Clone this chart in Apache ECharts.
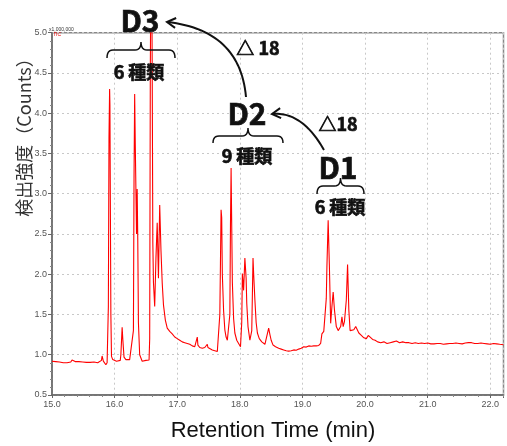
<!DOCTYPE html>
<html>
<head>
<meta charset="utf-8">
<script src="https://cdn.jsdelivr.net/npm/echarts@6/dist/echarts.min.js"></script>
<style>
html,body{margin:0;padding:0;background:#fff;}
#chart{width:507px;height:446px;}
</style>
</head>
<body>
<div id="chart"></div>
<script>
// Retention time (min)
var retentionTime = [
15.00,15.03,15.06,15.09,15.12,15.15,15.18,15.21,15.24,15.27,15.30,15.32,15.34,15.37,15.40,15.43,15.46,15.49,15.52,15.55,
15.58,15.61,15.64,15.67,15.70,15.73,15.76,15.79,15.80,15.82,15.84,15.86,15.88,15.90,15.91,15.92,15.925,15.93,15.94,15.95,
15.97,16.00,16.03,16.06,16.09,16.10,16.12,16.13,16.15,16.18,16.21,16.24,16.27,16.30,16.31,16.32,16.33,16.35,16.36,16.37,
16.38,16.40,16.42,16.44,16.47,16.50,16.53,16.55,16.56,16.57,16.585,16.60,16.61,16.62,16.64,16.66,16.68,16.70,16.72,16.74,
16.76,16.78,16.81,16.84,16.88,16.92,16.96,17.00,17.04,17.08,17.12,17.16,17.20,17.24,17.28,17.31,17.32,17.33,17.36,17.40,
17.44,17.47,17.48,17.49,17.52,17.56,17.60,17.64,17.66,17.68,17.69,17.70,17.71,17.72,17.74,17.76,17.78,17.80,17.82,17.84,
17.85,17.86,17.87,17.88,17.90,17.92,17.95,17.98,18.01,18.03,18.04,18.06,18.08,18.10,18.11,18.13,18.16,18.19,18.21,18.22,
18.23,18.24,18.26,18.28,18.31,18.35,18.40,18.43,18.46,18.48,18.50,18.53,18.57,18.62,18.66,18.70,18.74,18.78,18.82,18.86,
18.90,18.94,18.98,19.02,19.06,19.10,19.14,19.18,19.22,19.26,19.29,19.31,19.34,19.36,19.38,19.39,19.41,19.43,19.45,19.47,
19.49,19.51,19.54,19.57,19.59,19.61,19.63,19.65,19.67,19.70,19.72,19.74,19.76,19.79,19.82,19.85,19.87,19.90,19.94,19.98,
20.02,20.05,20.08,20.12,20.16,20.20,20.25,20.30,20.35,20.40,20.45,20.50,20.55,20.60,20.65,20.70,20.75,20.80,20.85,20.90,
20.95,21.00,21.05,21.10,21.15,21.20,21.25,21.30,21.35,21.40,21.45,21.50,21.55,21.60,21.65,21.70,21.75,21.80,21.85,21.90,
21.95,22.00,22.05,22.10,22.15,22.21
];
// TIC intensity (x1,000,000 counts)
var intensity = [
0.92,0.91,0.915,0.90,0.91,0.905,0.90,0.91,0.90,0.905,0.91,0.935,0.92,0.915,0.91,0.915,0.905,0.91,0.90,0.905,
0.90,0.905,0.90,0.91,0.905,0.90,0.91,0.93,0.985,0.92,0.90,0.875,0.90,1.6,3.7,4.30,4.1,3.2,1.5,0.98,
0.94,0.93,0.92,0.925,0.93,1.0,1.34,1.2,0.97,0.94,0.935,0.94,0.93,1.3,3.2,4.24,3.6,2.5,3.06,2.4,
1.4,1.0,0.96,0.92,0.91,0.93,0.92,0.935,1.2,4.5,6.8,4.6,2.4,1.9,1.60,2.2,2.64,1.95,2.86,2.3,
1.89,1.62,1.43,1.33,1.29,1.26,1.22,1.20,1.18,1.16,1.15,1.14,1.13,1.11,1.10,1.11,1.22,1.12,1.09,1.08,
1.09,1.10,1.13,1.09,1.07,1.06,1.05,1.04,1.05,1.5,2.14,2.80,2.7,2.0,1.55,1.31,1.22,1.18,1.20,1.5,
2.61,3.32,2.6,1.9,1.45,1.27,1.18,1.14,1.10,1.4,2.01,1.80,2.20,1.95,1.64,1.35,1.18,1.3,2.20,2.01,
2.0,1.68,1.4,1.27,1.2,1.16,1.13,1.15,1.33,1.25,1.18,1.12,1.10,1.08,1.07,1.06,1.05,1.045,1.05,1.06,
1.055,1.07,1.08,1.10,1.095,1.11,1.105,1.11,1.11,1.115,1.14,1.26,1.29,1.31,1.7,2.09,2.67,2.09,1.39,1.6,
1.78,1.56,1.35,1.30,1.29,1.35,1.47,1.35,1.41,1.68,2.12,1.56,1.30,1.29,1.31,1.35,1.34,1.27,1.24,1.21,
1.20,1.24,1.22,1.19,1.18,1.16,1.15,1.16,1.14,1.15,1.16,1.17,1.15,1.16,1.15,1.15,1.14,1.15,1.14,1.145,
1.14,1.145,1.135,1.135,1.14,1.14,1.13,1.135,1.14,1.14,1.145,1.14,1.135,1.145,1.15,1.15,1.14,1.14,1.145,1.14,
1.135,1.13,1.14,1.135,1.13,1.125
];
var xTickMin = 15, xTickMax = 22.21, xTickStep = 1;
var yTickMin = 0.5, yTickMax = 5.0, yTickStep = 0.5;
var xAxisTitle = 'Retention Time (min)';
var yAxisTitle = '検出強度（Counts）';
var groupLabels = ['D3', 'D2', 'D1'];
var groupCounts = ['6 種類', '9 種類', '6 種類'];
var stepLabels = ['△ 18', '△18'];

var chart = echarts.init(document.getElementById('chart'), null, {renderer: 'canvas'});

function quad(p0, c, p1, n, out) {
  for (var i = 1; i <= n; i++) {
    var t = i / n, a = (1 - t) * (1 - t), b = 2 * (1 - t) * t, d = t * t;
    out.push([a * p0[0] + b * c[0] + d * p1[0], a * p0[1] + b * c[1] + d * p1[1]]);
  }
}
function brace(x0, x1, ytip, ymid, yend) {
  var xc = (x0 + x1) / 2, r = 6, pts = [[x0, yend]];
  quad([x0, yend], [x0, ymid], [x0 + r, ymid], 6, pts);
  pts.push([xc - r, ymid]);
  quad([xc - r, ymid], [xc, ymid], [xc, ytip], 6, pts);
  quad([xc, ytip], [xc, ymid], [xc + r, ymid], 6, pts);
  pts.push([x1 - r, ymid]);
  quad([x1 - r, ymid], [x1, ymid], [x1, yend], 6, pts);
  return {type: 'polyline', shape: {points: pts}, style: {stroke: '#111', lineWidth: 1.5, fill: null}, z: 10};
}
function arrow(sx, sy, cx, cy, ex, ey) {
  var dx = ex - cx, dy = ey - cy, L = Math.sqrt(dx * dx + dy * dy);
  var ux = -dx / L, uy = -dy / L, h = 10, a = Math.PI / 6;
  var p1 = [ex + h * (ux * Math.cos(a) - uy * Math.sin(a)), ey + h * (ux * Math.sin(a) + uy * Math.cos(a))];
  var p2 = [ex + h * (ux * Math.cos(-a) - uy * Math.sin(-a)), ey + h * (ux * Math.sin(-a) + uy * Math.cos(-a))];
  var pts = [[sx, sy]];
  quad([sx, sy], [cx, cy], [ex, ey], 30, pts);
  return [
    {type: 'polyline', shape: {points: pts}, style: {stroke: '#111', lineWidth: 2, fill: null}, z: 10},
    {type: 'polyline', shape: {points: [p1, [ex, ey], p2]}, style: {stroke: '#111', lineWidth: 2, fill: null}, z: 10}
  ];
}
var bold = {fontFamily: 'Noto Sans CJK JP', fontWeight: 'bold', fill: '#111', stroke: '#111', lineWidth: 0.7,
            textAlign: 'center', textVerticalAlign: 'middle'};
function txt(s, x, y, size, extra) {
  var st = Object.assign({}, bold, {text: s, x: x, y: y, fontSize: size}, extra || {});
  return {type: 'text', style: st, z: 10};
}
var plain = {fontWeight: 'normal', stroke: null, lineWidth: 0};

var yTitle = txt(yAxisTitle, 0, 0, 18, Object.assign({fill: '#333'}, plain));
yTitle.rotation = Math.PI / 2; yTitle.x = 24; yTitle.y = 133;

var graphics = [
  txt(groupLabels[0], 140, 21, 30),
  txt(groupCounts[0], 139, 72, 18),
  txt(groupLabels[1], 247, 114, 30),
  txt(groupCounts[1], 247, 156, 18),
  txt(groupLabels[2], 338, 168, 30),
  txt(groupCounts[2], 340, 207, 18),
  txt(stepLabels[0], 258, 48, 18),
  txt(stepLabels[1], 338, 124, 18),
  brace(107, 175, 42, 50, 58),
  brace(213, 283, 128, 136, 143),
  brace(317, 364, 178, 186, 194),
  yTitle,
  txt(xAxisTitle, 273, 431, 22, Object.assign({fontFamily: 'Liberation Sans', fill: '#111'}, plain)),
  {type: 'text', style: {text: 'x1,000,000', x: 49, y: 29.5, fontSize: 5, fontFamily: 'Liberation Sans', fill: '#333', textVerticalAlign: 'middle'}},
  {type: 'text', style: {text: 'TIC', x: 53, y: 35, fontSize: 5, fontFamily: 'Liberation Sans', fill: '#e00', textVerticalAlign: 'middle'}}
];
graphics = graphics.concat(arrow(246, 97, 240, 30, 167, 22)).concat(arrow(324, 150, 302, 111, 272, 114));

var axisLabelStyle = {fontSize: 9, color: '#555', fontFamily: 'Liberation Sans'};
var option = {
  animation: false,
  backgroundColor: '#fff',
  grid: {left: 52, right: 3.5, top: 32.7, bottom: 51, show: true, borderColor: '#888', borderWidth: 1.5},
  xAxis: {
    type: 'value', min: xTickMin, max: xTickMax, interval: xTickStep,
    axisLine: {lineStyle: {color: '#666', width: 1.5}},
    axisTick: {show: true, length: 3, lineStyle: {color: '#666'}},
    minorTick: {show: true, splitNumber: 5, length: 2, lineStyle: {color: '#888'}},
    axisLabel: Object.assign({margin: 5, formatter: function (v) { return v.toFixed(1); }}, axisLabelStyle),
    splitLine: {show: true, lineStyle: {color: '#c8c8c8', type: [2, 3], width: 1}}
  },
  yAxis: {
    type: 'value', min: yTickMin, max: yTickMax, interval: yTickStep,
    axisLine: {show: true, lineStyle: {color: '#666', width: 1.5}},
    axisTick: {show: true, length: 4, lineStyle: {color: '#666'}},
    minorTick: {show: true, splitNumber: 5, length: 2, lineStyle: {color: '#888'}},
    axisLabel: Object.assign({margin: 5, formatter: function (v) { return v.toFixed(1); }}, axisLabelStyle),
    splitLine: {show: true, lineStyle: {color: '#c8c8c8', type: [2, 3], width: 1}}
  },
  series: [{
    type: 'line',
    data: retentionTime.map(function (t, i) { return [t, intensity[i]]; }),
    showSymbol: false, symbol: 'none', clip: true,
    lineStyle: {color: '#ff0000', width: 1.1},
    z: 3
  }],
  graphic: graphics
};
chart.setOption(option);
</script>
</body>
</html>
